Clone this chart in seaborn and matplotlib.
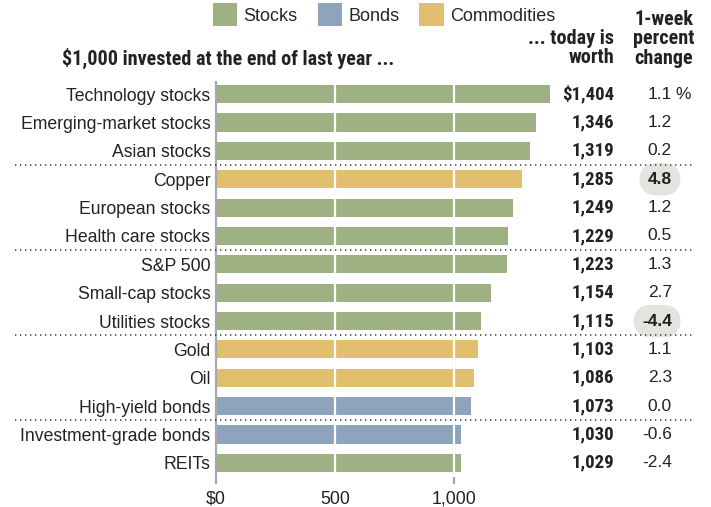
import pandas as pd
import seaborn as sns
import matplotlib
matplotlib.use('Agg')
import matplotlib.pyplot as plt
from matplotlib.patches import Patch
from matplotlib.transforms import blended_transform_factory

# data
labels = ["Technology stocks", "Emerging-market stocks", "Asian stocks", "Copper",
          "European stocks", "Health care stocks", "S&P 500", "Small-cap stocks",
          "Utilities stocks", "Gold", "Oil", "High-yield bonds",
          "Investment-grade bonds", "REITs"]
worth = [1404, 1346, 1319, 1285, 1249, 1229, 1223, 1154, 1115, 1103, 1086, 1073, 1030, 1029]
week_change = [1.1, 1.2, 0.2, 4.8, 1.2, 0.5, 1.3, 2.7, -4.4, 1.1, 2.3, 0.0, -0.6, -2.4]
asset_type = ["Stocks", "Stocks", "Stocks", "Commodities", "Stocks", "Stocks", "Stocks",
              "Stocks", "Stocks", "Commodities", "Commodities", "Bonds", "Bonds", "Stocks"]
highlighted = ["Copper", "Utilities stocks"]
separators_after = ["Asian stocks", "Health care stocks", "Utilities stocks", "High-yield bonds"]

colors = {"Stocks": "#9eb183", "Bonds": "#8ea3bc", "Commodities": "#e1bf6e"}

df = pd.DataFrame({"label": labels, "worth": worth, "change": week_change, "type": asset_type})

sns.set_style("white")
plt.rcParams['font.family'] = ['Liberation Sans', 'DejaVu Sans']
narrow = ['Liberation Sans Narrow', 'Roboto Condensed', 'Liberation Sans', 'DejaVu Sans']

fig = plt.figure(figsize=(7.11, 5.07), dpi=100)
ax = fig.add_axes([216 / 711, 1 - 477 / 507, 345 / 711, (477 - 80) / 507])

sns.barplot(data=df, y="label", x="worth", hue="type", palette=colors, dodge=False,
            width=0.64, legend=False, ax=ax, saturation=1, linewidth=0)

ax.set_xlim(0, 1450)
ax.set_ylim(len(labels) - 0.5, -0.5)
ax.set_xlabel("")
ax.set_ylabel("")
for s in ax.spines.values():
    s.set_visible(False)

# gridlines: white over the bars, gray axis at zero and at 1,000 below
for v in [500, 1000]:
    ax.axvline(v, color="white", lw=1.6, zorder=3)
ax.vlines(0, -0.45, len(labels) - 0.25, color="#a9a9ad", lw=1.6, zorder=4, clip_on=False)
ax.vlines(1000, labels.index("Utilities stocks"), len(labels) - 0.25,
          color="#a9a9ad", lw=1.6, zorder=0, clip_on=False)

ax.set_xticks([0, 500, 1000])
ax.set_xticklabels(["$0", "500", "1,000"])
ax.tick_params(axis="x", length=0, pad=10, labelsize=12.8, labelcolor="#222222")
ax.tick_params(axis="y", length=0, pad=4, labelsize=12.7, labelcolor="#222222")

trans = blended_transform_factory(fig.transFigure, ax.transData)

# dotted separators between groups
for name in separators_after:
    y = labels.index(name) + 0.5
    ax.plot([15 / 711, 692 / 711], [y, y], transform=trans, clip_on=False,
            color="#444444", lw=1.2, linestyle=(0, (0.8, 2.2)), zorder=5)

# value columns
for i, row in df.iterrows():
    txt = f"${row.worth:,}" if i == 0 else f"{row.worth:,}"
    ax.text(614 / 711, i, txt, transform=trans, ha="right", va="center",
            fontsize=13.5, fontweight="bold", family=narrow, color="#222222")
    box = None
    if row.label in highlighted:
        box = dict(boxstyle="round,pad=0.5,rounding_size=1.05", fc="#e5e3e0", ec="none")
    ax.text(672 / 711, i, f"{row.change:.1f}", transform=trans, ha="right", va="center",
            fontsize=12.5, color="#222222", bbox=box,
            fontweight="bold" if row.label in highlighted else "normal")
ax.text(675 / 711, 0, "%", transform=trans, ha="left", va="center",
        fontsize=12.5, color="#222222")

# headers
fig.text(62 / 711, 1 - 58 / 507, "$1,000 invested at the end of last year ...",
         ha="left", va="center", fontsize=14.5, fontweight="bold", family=narrow, color="#222222")
fig.text(614 / 711, 1 - 48 / 507, "... today is\nworth", ha="right", va="center",
         fontsize=14.5, fontweight="bold", family=narrow, color="#222222", linespacing=1.05)
fig.text(664 / 711, 1 - 39 / 507, "1-week\npercent\nchange", ha="center", va="center",
         fontsize=14.5, fontweight="bold", family=narrow, color="#222222", linespacing=1.05)

# legend
handles = [Patch(facecolor=colors[k], edgecolor="none") for k in ["Stocks", "Bonds", "Commodities"]]
fig.legend(handles, ["Stocks", "Bonds", "Commodities"], ncol=3, frameon=False,
           loc="upper left", bbox_to_anchor=(213 / 711, 1 - 3 / 507), fontsize=13,
           handlelength=1.35, handleheight=1.6, handletextpad=0.35, columnspacing=1.1,
           borderaxespad=0, borderpad=0)

fig.savefig("out.png", dpi=100)
